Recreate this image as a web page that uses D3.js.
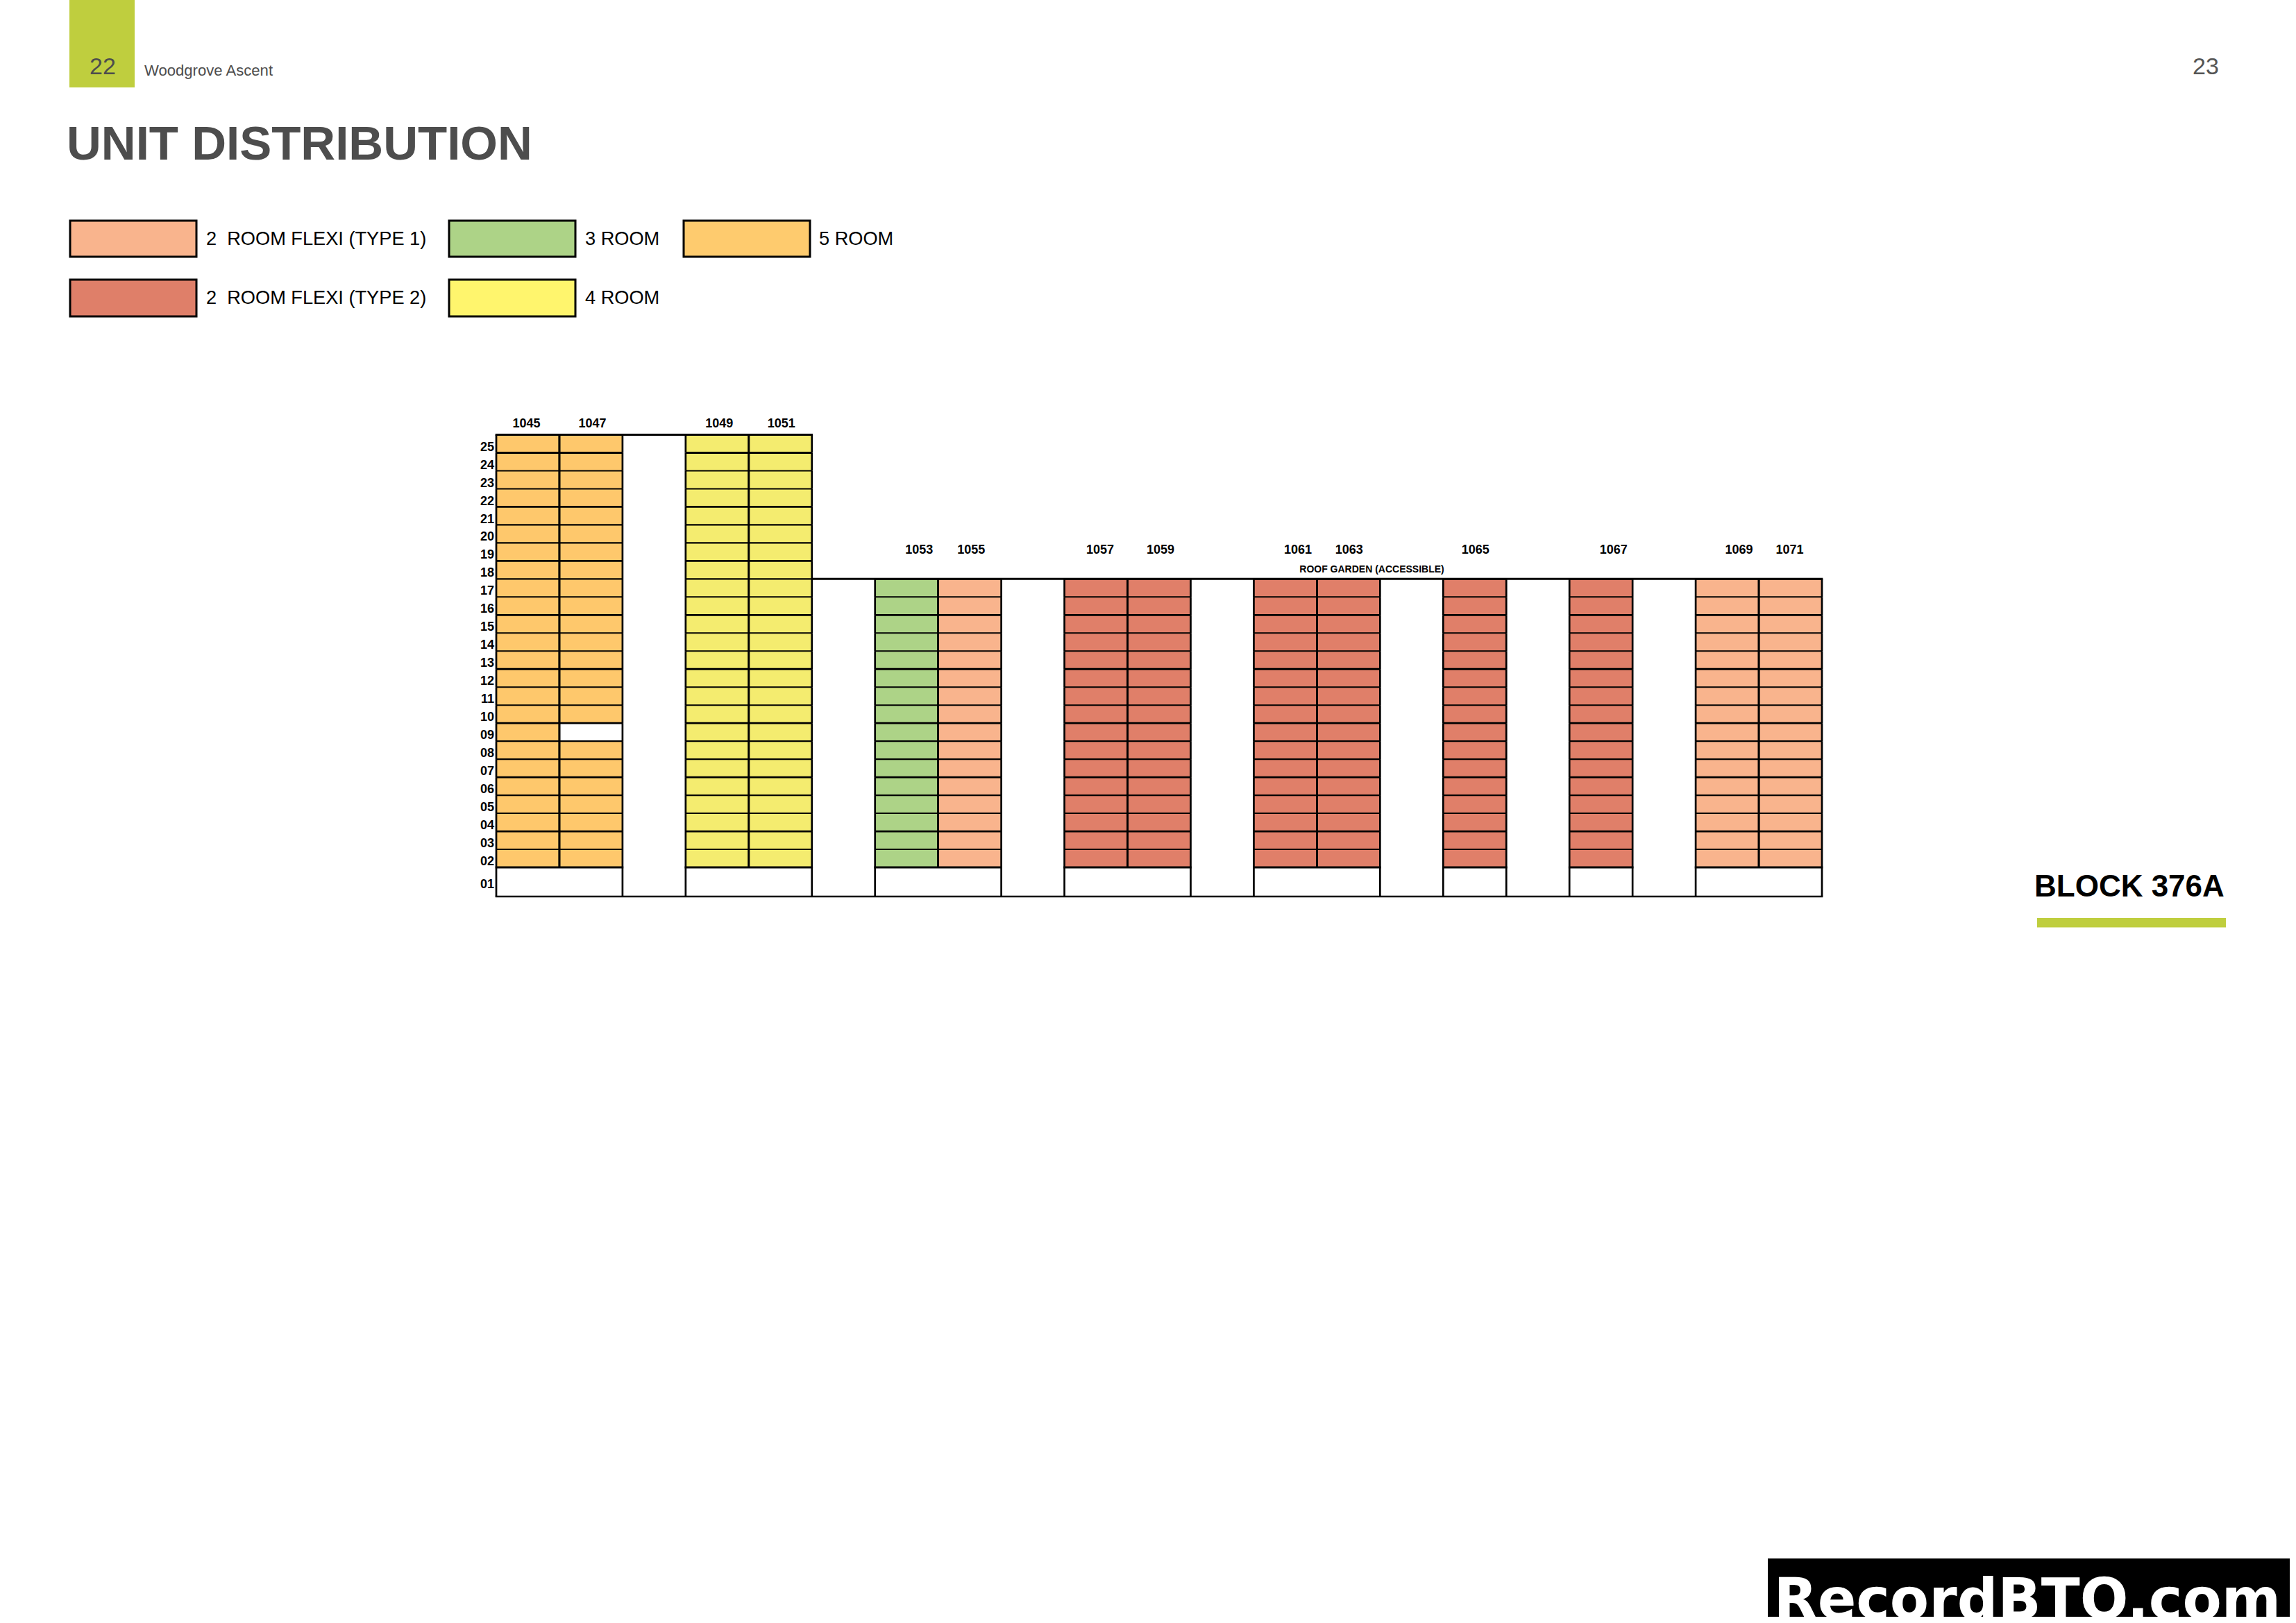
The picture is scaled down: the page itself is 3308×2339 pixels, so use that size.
<!DOCTYPE html>
<html>
<head>
<meta charset="utf-8">
<script src="https://cdn.jsdelivr.net/npm/d3@7"></script>
<style>
  body { margin: 0; background: #fff; }
  text { font-family: "Liberation Sans", Arial, sans-serif; }
</style>
</head>
<body>
<script>
// bays across the block, voids are the empty slots between the stacks
const bays = ["1045", "1047", "v1", "1049", "1051", "v2", "1053", "1055", "v3", "1057", "1059", "v4",
              "1061", "1063", "v5", "1065", "v6", "1067", "v7", "1069", "1071"];
const units = ["1045", "1047", "1049", "1051", "1053", "1055", "1057", "1059", "1061", "1063", "1065", "1067", "1069", "1071"];
const unitTypes = ["5R", "5R", "4R", "4R", "3R", "2A", "2B", "2B", "2B", "2B", "2B", "2B", "2A", "2A"];
const towerUnits = ["1045", "1047", "1049", "1051"];
const lowUnits = ["1053", "1055", "1057", "1059", "1061", "1063", "1065", "1067", "1069", "1071"];
const groundBlocks = [["1045", "1047"], ["1049", "1051"], ["1053", "1055"], ["1057", "1059"], ["1061", "1063"], ["1065", "1065"], ["1067", "1067"], ["1069", "1071"]];
const floors = ["25", "24", "23", "22", "21", "20", "19", "18", "17", "16", "15", "14", "13", "12", "11", "10", "09", "08", "07", "06", "05", "04", "03", "02"];
const towerOnlyFloors = ["25", "24", "23", "22", "21", "20", "19", "18"];
const emptyCells = [["1047", "09"]];

const typeKeys = ["2A", "2B", "3R", "4R", "5R"];
const typeColors = ["#f9b48d", "#e07f69", "#add387", "#f4ec6f", "#fec86c"];
const legendKeys = ["2A", "2B", "3R", "4R", "5R"];
const legendLabels = ["2  ROOM FLEXI (TYPE 1)", "2  ROOM FLEXI (TYPE 2)", "3 ROOM", "4 ROOM", "5 ROOM"];
const legendColors = ["#f9b48d", "#df7f69", "#add387", "#fff56d", "#fecb6e"];

const accent = "#bfce3e";
const grey = "#4d4d4d";

const svg = d3.select("body").append("svg")
    .attr("width", 3308)
    .attr("height", 2339)
    .attr("viewBox", "0 0 3308 2339");

const x = d3.scaleBand().domain(bays).range([715, 2625]);
const y = d3.scaleBand().domain(floors).range([626.5, 1250]);
const yGround = d3.scaleBand().domain(["01"]).range([1250, 1292]);
const color = d3.scaleOrdinal().domain(typeKeys).range(typeColors);

// page header
svg.append("rect").attr("x", 100).attr("y", 0).attr("width", 94).attr("height", 126).attr("fill", accent);
svg.append("text").attr("x", 129).attr("y", 107).attr("font-size", 34).attr("fill", grey).text("22");
svg.append("text").attr("x", 208).attr("y", 109).attr("font-size", 22.1).attr("fill", grey).text("Woodgrove Ascent");
svg.append("text").attr("x", 3159).attr("y", 107).attr("font-size", 34).attr("fill", "#555").text("23");
svg.append("text").attr("x", 96).attr("y", 230).attr("font-size", 69).attr("font-weight", "bold").attr("fill", grey).text("UNIT DISTRIBUTION");

// legend
const legendX = d3.scaleOrdinal().domain(legendKeys).range([101, 101, 647, 647, 985]);
const legendY = d3.scaleOrdinal().domain(legendKeys).range([318, 403, 318, 403, 318]);
const legendTextX = d3.scaleOrdinal().domain(legendKeys).range([297, 297, 843, 843, 1180]);

const legend = svg.append("g").selectAll("g").data(legendKeys).join("g");
legend.append("rect")
    .attr("x", d => legendX(d))
    .attr("y", d => legendY(d))
    .attr("width", 182)
    .attr("height", d => legendY(d) == 318 ? 52 : 53)
    .attr("fill", (d, i) => legendColors[i])
    .attr("stroke", "#000")
    .attr("stroke-width", 3);
legend.append("text")
    .attr("x", d => legendTextX(d))
    .attr("y", d => legendY(d) + 35)
    .attr("font-size", 27.2)
    .attr("fill", "#000")
    .style("white-space", "pre")
    .text((d, i) => legendLabels[i]);

// unit cells
const cells = [];
units.forEach((u, i) => {
    floors.forEach(f => {
        if (!towerUnits.includes(u) && towerOnlyFloors.includes(f)) return;
        const empty = emptyCells.some(c => c[0] == u && c[1] == f);
        cells.push({ unit: u, floor: f, fill: empty ? "#fff" : color(unitTypes[i]) });
    });
});

const grid = svg.append("g");
grid.selectAll("rect").data(cells).join("rect")
    .attr("x", d => x(d.unit))
    .attr("y", d => y(d.floor))
    .attr("width", x.bandwidth())
    .attr("height", y.bandwidth())
    .attr("fill", d => d.fill);

// floor lines are a little thinner than the walls, every third one prints heavier
const floorLines = cells.map(d => [x(d.unit), y(d.floor), x(d.unit) + x.bandwidth(), floors.indexOf(d.floor)]);
grid.append("g").selectAll("line").data(floorLines).join("line")
    .attr("x1", d => d[0]).attr("x2", d => d[2])
    .attr("y1", d => y(floors[d[3]])).attr("y2", d => y(floors[d[3]]))
    .attr("stroke", "#000")
    .attr("stroke-width", d => d[3] % 3 == 1 ? 2.8 : 2.1);

const wallLines = [];
cells.forEach(d => {
    wallLines.push([x(d.unit), y(d.floor), y(d.floor) + y.bandwidth()]);
    wallLines.push([x(d.unit) + x.bandwidth(), y(d.floor), y(d.floor) + y.bandwidth()]);
});
groundBlocks.forEach(b => {
    wallLines.push([x(b[0]), yGround("01"), yGround.range()[1]]);
    wallLines.push([x(b[1]) + x.bandwidth(), yGround("01"), yGround.range()[1]]);
});
grid.append("g").selectAll("line").data(wallLines).join("line")
    .attr("x1", d => d[0]).attr("y1", d => d[1])
    .attr("x2", d => d[0]).attr("y2", d => d[2])
    .attr("stroke", "#000")
    .attr("stroke-width", 2.7);

// ground floor opens to the voids, only a heavy slab line over each stack
grid.append("g").selectAll("line").data(groundBlocks).join("line")
    .attr("x1", d => x(d[0]) - 1.3)
    .attr("x2", d => x(d[1]) + x.bandwidth() + 1.3)
    .attr("y1", yGround("01"))
    .attr("y2", yGround("01"))
    .attr("stroke", "#000")
    .attr("stroke-width", 3);

// top, roof and base lines
const outline = [
    [x("1045") - 1.3, y("25"), x("1051") + x.bandwidth() + 1.3, y("25"), 3],
    [x("1051") + x.bandwidth(), y("17"), x("1071") + x.bandwidth() + 1.3, y("17"), 3],
    [x("1045") - 1.3, yGround.range()[1], x("1071") + x.bandwidth() + 1.3, yGround.range()[1], 2.4]
];
grid.append("g").selectAll("line").data(outline).join("line")
    .attr("x1", d => d[0]).attr("y1", d => d[1])
    .attr("x2", d => d[2]).attr("y2", d => d[3])
    .attr("stroke", "#000")
    .attr("stroke-width", d => d[4]);

// axes, the source labels sit a bit off the cell centres
const labelNudge = { "1045": -2, "1047": 2, "1049": 3, "1051": 1.5, "1053": 18, "1055": 2, "1057": 6, "1059": 2,
                     "1061": 18, "1063": 1, "1065": 1, "1067": 18, "1069": 17, "1071": -1 };

function styleAxis(g) {
    g.select(".domain").remove();
    g.selectAll("text")
        .attr("font-size", 18)
        .attr("font-weight", "bold")
        .attr("fill", "#000");
}

svg.append("g").attr("transform", "translate(0,615.5)")
    .call(d3.axisTop(x).tickValues(towerUnits).tickSize(0).tickPadding(0))
    .call(styleAxis)
    .selectAll("text").attr("dx", d => labelNudge[d]);

svg.append("g").attr("transform", "translate(0,798)")
    .call(d3.axisTop(x).tickValues(lowUnits).tickSize(0).tickPadding(0))
    .call(styleAxis)
    .selectAll("text").attr("dx", d => labelNudge[d]);

svg.append("g").attr("transform", "translate(712,0)")
    .call(d3.axisLeft(y).tickSize(0).tickPadding(0))
    .call(styleAxis)
    .selectAll("text").attr("dy", "0.56em");

svg.append("g").attr("transform", "translate(712,0)")
    .call(d3.axisLeft(yGround).tickSize(0).tickPadding(0))
    .call(styleAxis)
    .selectAll("text").attr("dy", "0.5em");

svg.append("text").attr("x", 1976.5).attr("y", 824.5).attr("text-anchor", "middle")
    .attr("font-size", 14).attr("font-weight", "bold").attr("fill", "#000")
    .text("ROOF GARDEN (ACCESSIBLE)");

// block tag
svg.append("text").attr("x", 2931).attr("y", 1292).attr("font-size", 44).attr("font-weight", "bold").attr("fill", "#000").text("BLOCK 376A");
svg.append("rect").attr("x", 2935).attr("y", 1323).attr("width", 272).attr("height", 13.5).attr("fill", accent);

// watermark, cut off at the bottom of the black strip
svg.append("clipPath").attr("id", "stamp")
    .append("rect").attr("x", 2547).attr("y", 2246).attr("width", 752).attr("height", 84);
const stamp = svg.append("g").attr("clip-path", "url(#stamp)");
stamp.append("rect").attr("x", 2547).attr("y", 2246).attr("width", 752).attr("height", 84).attr("fill", "#000");
stamp.append("text").attr("x", 2555.5).attr("y", 2333)
    .style("font-family", "DejaVu Sans")
    .attr("font-size", 82).attr("font-weight", "bold").attr("fill", "#fff")
    .text("RecordBTO.com");
</script>
</body>
</html>
